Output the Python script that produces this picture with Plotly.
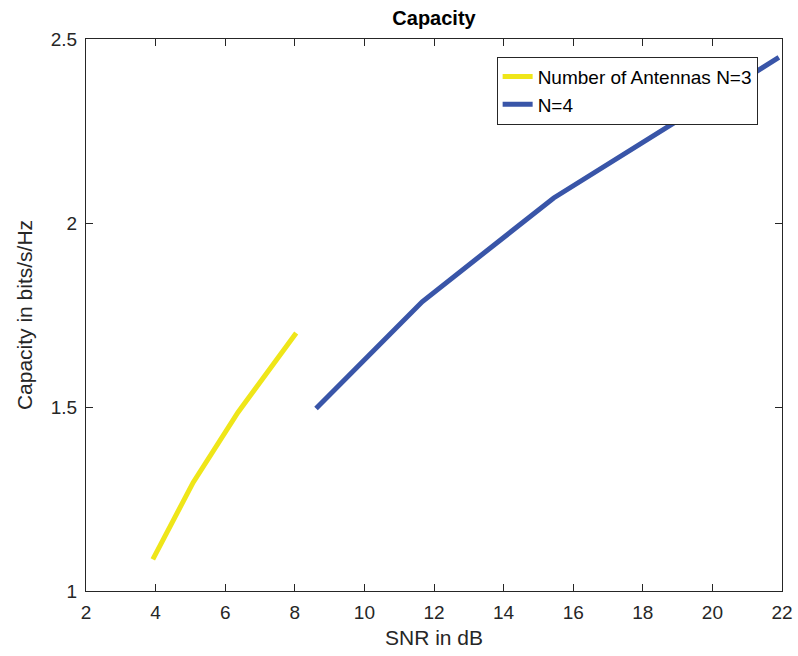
import plotly.graph_objects as go

snr_n3 = [3.92, 5.08, 6.37, 8.04]
cap_n3 = [1.086, 1.295, 1.486, 1.701]
snr_n4 = [8.61, 11.66, 15.44, 21.91]
cap_n4 = [1.496, 1.786, 2.068, 2.45]
x_ticks = [2, 4, 6, 8, 10, 12, 14, 16, 18, 20, 22]
y_ticks = [1, 1.5, 2, 2.5]
y_tick_labels = ["1", "1.5", "2", "2.5"]

font = "Liberation Sans, Arial, Helvetica, sans-serif"

fig = go.Figure()
fig.add_trace(go.Scatter(x=snr_n3, y=cap_n3, mode="lines", name="Number of Antennas N=3",
                         line=dict(color="#EFE619", width=5)))
fig.add_trace(go.Scatter(x=snr_n4, y=cap_n4, mode="lines", name="N=4",
                         line=dict(color="#3955A8", width=5)))

axis_common = dict(showgrid=False, zeroline=False, showline=True, linecolor="#262626",
                   linewidth=1, mirror="ticks", ticks="inside", ticklen=7,
                   tickcolor="#262626", automargin=False,
                   tickfont=dict(family=font, size=19, color="#262626"))
fig.update_xaxes(range=[2, 22], tickvals=x_ticks, ticklabelstandoff=4,
                 title=dict(text="SNR in dB", font=dict(family=font, size=21, color="#262626"), standoff=8),
                 **axis_common)
fig.update_yaxes(range=[1, 2.5], tickvals=y_ticks, ticktext=y_tick_labels, ticklabelstandoff=4,
                 title=dict(text="Capacity in bits/s/Hz", font=dict(family=font, size=21, color="#262626"), standoff=12),
                 **axis_common)

fig.update_layout(
    width=798, height=656,
    margin=dict(l=86, r=16, t=39, b=65),
    plot_bgcolor="white", paper_bgcolor="white",
    title=dict(text="<b>Capacity</b>", x=0.5, xref="paper", xanchor="center",
               y=1 - 18 / 656, yanchor="middle",
               font=dict(family=font, size=20, color="black")),
    legend=dict(x=0.590, y=0.968, xanchor="left", yanchor="top",
                bordercolor="#262626", borderwidth=1, bgcolor="white",
                font=dict(family=font, size=19, color="black"),
                tracegroupgap=0),
)

fig.write_html("out.html", config={"displayModeBar": False},
               post_script="document.body.style.margin='0px';document.body.style.padding='0px';")
